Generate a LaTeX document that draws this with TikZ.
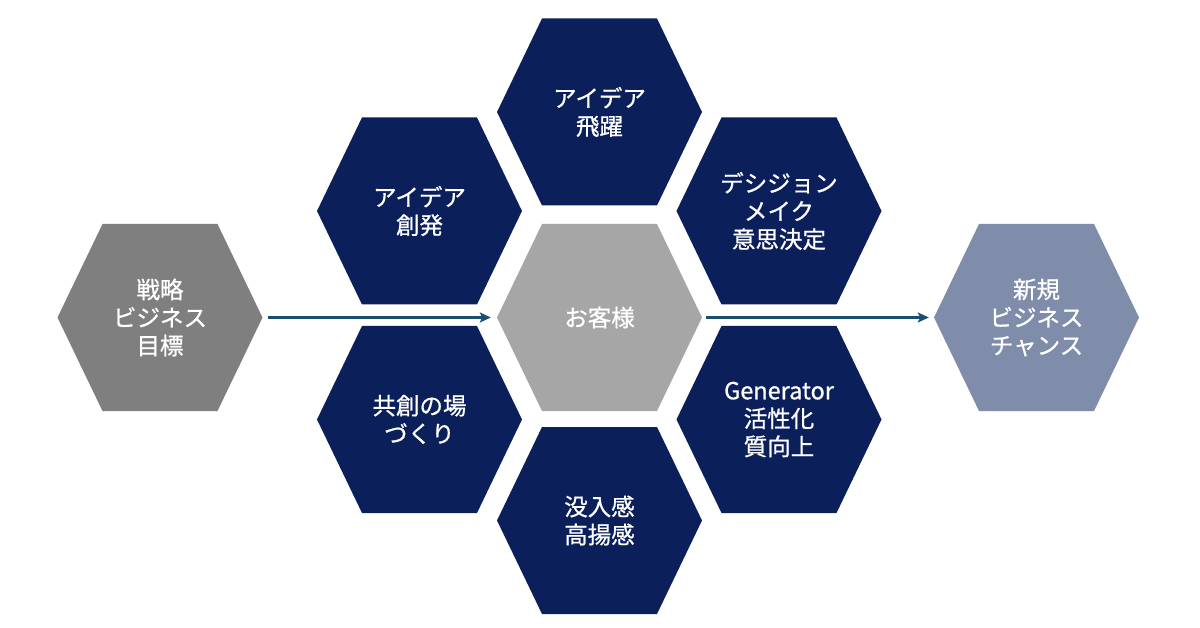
\documentclass[tikz,border=0pt]{standalone}
\usepackage{fontspec}
\setmainfont{Noto Sans CJK JP}[FakeBold=0.8]
\usetikzlibrary{calc,arrows.meta}
\definecolor{navy}{HTML}{0B1F5B}
\definecolor{midgray}{HTML}{A6A6A6}
\definecolor{darkgray}{HTML}{7F7F7F}
\definecolor{bluegray}{HTML}{7F8DAA}
\definecolor{arrowc}{HTML}{1B4F6E}
\tikzset{
  hexbox/.style={rectangle, draw=none, minimum width=205pt, minimum height=187pt,
    inner sep=0pt, align=center, text=white,
    font=\fontsize{23.5}{28}\selectfont,
    path picture={\fill[#1]
      (path picture bounding box.west) --
      ($(path picture bounding box.north)+(-57.5pt,0)$) --
      ($(path picture bounding box.north)+(57.5pt,0)$) --
      (path picture bounding box.east) --
      ($(path picture bounding box.south)+(57.5pt,0)$) --
      ($(path picture bounding box.south)+(-57.5pt,0)$) -- cycle;}},
  flow/.style={draw=arrowc, line width=2.2pt, -{Stealth[length=11pt,width=10pt,inset=2.5pt]}}
}
\begin{document}
\begin{tikzpicture}[x=1pt,y=-1pt]
\useasboundingbox[fill=white] (0,0) rectangle (1200,628);
\node[hexbox=darkgray] (goal) at (160,317.5) {戦略\\ビジネス\\目標};
\node[hexbox=midgray] (client) at (599.5,317.5) {お客様};
\node[hexbox=bluegray] (newbiz) at (1036.5,317.5) {新規\\ビジネス\\チャンス};
\node[hexbox=navy] (top) at (599.5,112) {アイデア\\飛躍};
\node[hexbox=navy] (ul) at (419.5,211) {アイデア\\創発};
\node[hexbox=navy] (ur) at (779,211) {デシジョン\\メイク\\意思決定};
\node[hexbox=navy] (ll) at (419.5,419.5) {共創の場\\づくり};
\node[hexbox=navy] (lr) at (779,419.5) {Generator\\活性化\\質向上};
\node[hexbox=navy] (bottom) at (599.5,520.5) {没入感\\高揚感};
\draw[flow, shorten <=5pt, shorten >=6pt] (goal.east) -- (client.west);
\draw[flow, shorten <=4pt, shorten >=5pt] (client.east) -- (newbiz.west);
\end{tikzpicture}
\end{document}
